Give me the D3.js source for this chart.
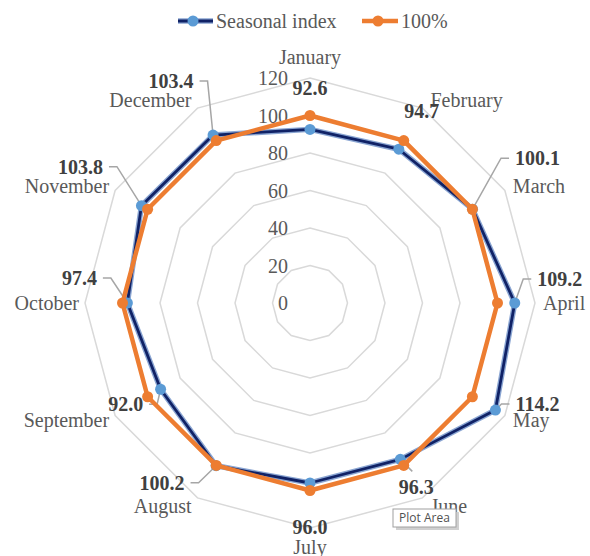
<!DOCTYPE html>
<html>
<head>
<meta charset="utf-8">
<script src="https://cdn.jsdelivr.net/npm/d3@7"></script>
<style>
  html, body { margin: 0; padding: 0; background: #fff; }
  svg { display: block; }
</style>
</head>
<body>
<svg id="chart" width="590" height="556"></svg>
<script>
// ---- Data ----
const months = ["January","February","March","April","May","June","July","August","September","October","November","December"];
const seasonalIndex = [92.6, 94.7, 100.1, 109.2, 114.2, 96.3, 96.0, 100.2, 92.0, 97.4, 103.8, 103.4];
const hundredPct = [100, 100, 100, 100, 100, 100, 100, 100, 100, 100, 100, 100];
const tickValues = [0, 20, 40, 60, 80, 100, 120];
const seriesNames = ["Seasonal index", "100%"];

// ---- Label placement (offsets from the data point, px) ----
const labelOffsets = [[0,-41],[23,-38],[65,-51],[45,-24],[42,-6],[16,28],[0,44],[-54,17],[-35,15],[-48,-25],[-61,-39],[-42,-54]];
const leaderSide = ["none","none","L","L","L","T","none","R","R","R","R","R"];

// ---- Layout ----
const cx = 310, cy = 303;
const r = d3.scaleLinear().domain([0, 120]).range([0, 225]);
const angle = i => i * 2 * Math.PI / months.length;
const svg = d3.select("#chart");
const g = svg.append("g").attr("transform", `translate(${cx},${cy})`);
const pt = (i, v) => [r(v) * Math.sin(angle(i)), -r(v) * Math.cos(angle(i))];

const serif = "'Liberation Serif', 'Times New Roman', serif";
const gridColor = "#d9d9d9";
const textGray = "#595959";

// Grid polygons
const radial = d3.lineRadial().curve(d3.curveLinearClosed);
tickValues.filter(t => t > 0).forEach(t => {
  g.append("path")
    .attr("d", radial(months.map((m, i) => [angle(i), r(t)])))
    .attr("fill", "none")
    .attr("stroke", gridColor)
    .attr("stroke-width", 1.5);
});

// Tick labels
g.selectAll("text.tick").data(tickValues).join("text")
  .attr("class", "tick")
  .attr("x", -22)
  .attr("y", d => -r(d))
  .attr("dy", "0.35em")
  .attr("text-anchor", "end")
  .attr("font-family", serif)
  .attr("font-size", 20)
  .attr("fill", textGray)
  .text(d => d);

// Category labels
const rOuter = r(120);
months.forEach((m, i) => {
  const a = angle(i);
  const s = Math.sin(a), c = Math.cos(a);
  const vx = rOuter * s, vy = -rOuter * c;
  let anchor = "middle", dx = 0, dy;
  if (Math.abs(s) < 0.01) {
    dy = c > 0 ? -21 : 19;
  } else {
    anchor = s > 0 ? "start" : "end";
    dx = s > 0 ? 8 : -6;
    dy = -c * 9;
  }
  g.append("text")
    .attr("x", vx + dx)
    .attr("y", vy + dy)
    .attr("dy", "0.35em")
    .attr("text-anchor", anchor)
    .attr("font-family", serif)
    .attr("font-size", 20)
    .attr("fill", textGray)
    .text(m);
});

// Series lines
const lineGen = d3.lineRadial().curve(d3.curveLinearClosed);
const seasonalPts = seasonalIndex.map((v, i) => [angle(i), r(v)]);
const hundredPts = hundredPct.map((v, i) => [angle(i), r(v)]);

g.append("path").attr("d", lineGen(seasonalPts))
  .attr("fill", "none").attr("stroke", "#8aa5d2").attr("stroke-width", 5.5).attr("stroke-linejoin", "round");
g.append("path").attr("d", lineGen(seasonalPts))
  .attr("fill", "none").attr("stroke", "#102266").attr("stroke-width", 2.8).attr("stroke-linejoin", "round");
g.selectAll("circle.s1").data(seasonalIndex).join("circle")
  .attr("class", "s1")
  .attr("cx", (d, i) => pt(i, d)[0])
  .attr("cy", (d, i) => pt(i, d)[1])
  .attr("r", 5.5)
  .attr("fill", "#5b9bd5");

g.append("path").attr("d", lineGen(hundredPts))
  .attr("fill", "none").attr("stroke", "#ed7d31").attr("stroke-width", 4.5).attr("stroke-linejoin", "round");
g.selectAll("circle.s2").data(hundredPct).join("circle")
  .attr("class", "s2")
  .attr("cx", (d, i) => pt(i, d)[0])
  .attr("cy", (d, i) => pt(i, d)[1])
  .attr("r", 5.5)
  .attr("fill", "#ed7d31");

// Data labels with leader lines
seasonalIndex.forEach((v, i) => {
  const [px, py] = pt(i, v);
  const [ox, oy] = labelOffsets[i];
  const lx = px + ox, ly = py + oy;
  const txt = g.append("text")
    .attr("x", lx).attr("y", ly).attr("dy", "0.35em")
    .attr("text-anchor", "middle")
    .attr("font-family", serif)
    .attr("font-size", 20)
    .attr("font-weight", "bold")
    .attr("fill", "#404040")
    .text(v.toFixed(1));
  const w = txt.node().getComputedTextLength();
  const side = leaderSide[i];
  let pts = null;
  if (side === "L") {
    const x0 = lx - w / 2 - 6;
    pts = [[x0, ly], [x0 - 8, ly], [px, py]];
  } else if (side === "R") {
    const x0 = lx + w / 2 + 6;
    pts = [[x0, ly], [x0 + 8, ly], [px, py]];
  } else if (side === "T") {
    pts = [[lx - 4, ly - 16], [px, py]];
  }
  if (pts) {
    g.insert("path", "text")
      .attr("d", d3.line()(pts))
      .attr("fill", "none")
      .attr("stroke", "#a6a6a6")
      .attr("stroke-width", 1.5);
  }
});

// Legend
const legend = svg.append("g");
const legY = 21;
const leg1 = legend.append("g");
leg1.append("line").attr("x1", 178).attr("x2", 213).attr("y1", legY).attr("y2", legY)
  .attr("stroke", "#8aa5d2").attr("stroke-width", 5.5);
leg1.append("line").attr("x1", 178).attr("x2", 213).attr("y1", legY).attr("y2", legY)
  .attr("stroke", "#102266").attr("stroke-width", 2.8);
leg1.append("circle").attr("cx", 193).attr("cy", legY).attr("r", 5.5).attr("fill", "#5b9bd5");
leg1.append("text").attr("x", 216).attr("y", legY).attr("dy", "0.33em")
  .attr("font-family", serif).attr("font-size", 20).attr("fill", textGray).text(seriesNames[0]);
const leg2 = legend.append("g");
leg2.append("line").attr("x1", 362).attr("x2", 398).attr("y1", legY).attr("y2", legY)
  .attr("stroke", "#ed7d31").attr("stroke-width", 4.5);
leg2.append("circle").attr("cx", 378).attr("cy", legY).attr("r", 5.5).attr("fill", "#ed7d31");
leg2.append("text").attr("x", 401).attr("y", legY).attr("dy", "0.33em")
  .attr("font-family", serif).attr("font-size", 20).attr("fill", textGray).text(seriesNames[1]);

// "Plot Area" tooltip artifact
const tip = svg.append("g");
tip.append("rect").attr("x", 396).attr("y", 512).attr("width", 63).attr("height", 18)
  .attr("fill", "#d0d0d0");
tip.append("rect").attr("x", 393).attr("y", 509).attr("width", 63).attr("height", 18)
  .attr("fill", "#ffffff").attr("stroke", "#a0a0a0").attr("stroke-width", 1);
tip.append("text").attr("x", 424.5).attr("y", 518).attr("dy", "0.35em")
  .attr("text-anchor", "middle")
  .attr("font-family", "'Open Sans', 'DejaVu Sans', sans-serif")
  .attr("font-size", 12).attr("fill", "#505050").text("Plot Area");
</script>
</body>
</html>
